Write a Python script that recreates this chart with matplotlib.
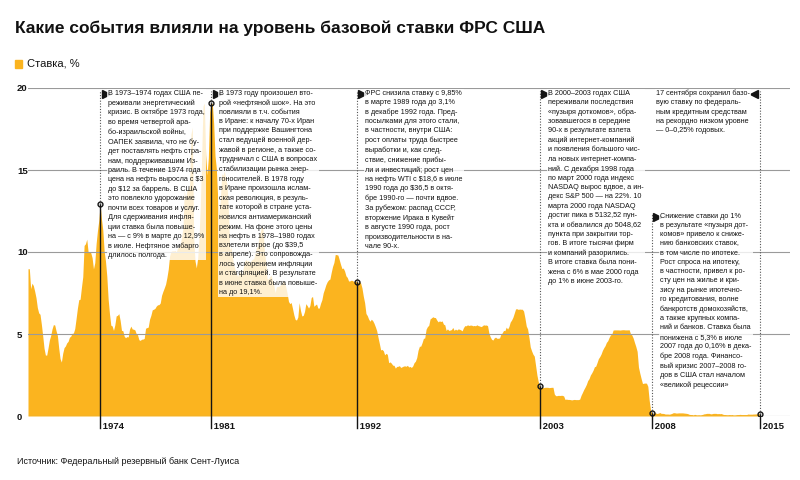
import numpy as np
import matplotlib
matplotlib.use('Agg')
import matplotlib.pyplot as plt
from matplotlib.patches import Rectangle
from matplotlib.transforms import offset_copy

plt.rcParams['font.family'] = ['Liberation Sans', 'DejaVu Sans']

# monthly federal funds rate, %, Jan 1970 .. Sep 2015
rates_1970s = [8.98, 8.98, 7.76, 8.10, 7.95, 7.61, 7.21, 6.61, 6.29, 6.20, 5.60, 4.90,
               4.14, 3.72, 3.71, 4.15, 4.63, 4.91, 5.31, 5.57, 5.55, 5.20, 4.91, 4.14,
               3.50, 3.29, 3.83, 4.17, 4.27, 4.46, 4.55, 4.80, 4.87, 5.04, 5.06, 5.33,
               5.94, 6.58, 7.09, 7.12, 7.84, 8.49, 10.40, 10.50, 10.78, 10.01, 10.03, 9.95,
               9.65, 8.97, 9.35, 10.51, 11.31, 11.93, 12.92, 12.01, 11.34, 10.06, 9.45, 8.53,
               7.13, 6.24, 5.54, 5.49, 5.22, 5.55, 6.10, 6.14, 6.24, 5.82, 5.22, 5.20,
               4.87, 4.77, 4.84, 4.82, 5.29, 5.48, 5.31, 5.29, 5.25, 5.02, 4.95, 4.65,
               4.61, 4.68, 4.69, 4.73, 5.35, 5.39, 5.42, 5.90, 6.14, 6.47, 6.51, 6.56,
               6.70, 6.78, 6.79, 6.89, 7.36, 7.60, 7.81, 8.04, 8.45, 8.96, 9.76, 10.03,
               10.07, 10.06, 10.09, 10.01, 10.24, 10.29, 10.47, 10.94, 11.43, 13.77, 13.18, 13.78]
rates_1980s = [13.82, 14.13, 17.19, 17.61, 10.98, 9.47, 9.03, 9.61, 10.87, 12.81, 15.85, 18.90,
               19.08, 15.93, 14.70, 15.72, 18.52, 19.10, 19.04, 17.82, 15.87, 15.08, 13.31, 12.37,
               13.22, 14.78, 14.68, 14.94, 14.45, 14.15, 12.59, 10.12, 10.31, 9.71, 9.20, 8.95,
               8.68, 8.51, 8.77, 8.80, 8.63, 8.98, 9.37, 9.56, 9.45, 9.48, 9.34, 9.47,
               9.56, 9.59, 9.91, 10.29, 10.32, 11.06, 11.23, 11.64, 11.30, 9.99, 9.43, 8.38,
               8.35, 8.50, 8.58, 8.27, 7.97, 7.53, 7.88, 7.90, 7.92, 7.99, 8.05, 8.27,
               8.14, 7.86, 7.48, 6.99, 6.85, 6.92, 6.56, 6.17, 5.89, 5.85, 6.04, 6.91,
               6.43, 6.10, 6.13, 6.37, 6.85, 6.73, 6.58, 6.73, 7.22, 7.29, 6.69, 6.77,
               6.83, 6.58, 6.58, 6.87, 7.09, 7.51, 7.75, 8.01, 8.19, 8.30, 8.35, 8.76,
               9.12, 9.36, 9.85, 9.84, 9.81, 9.53, 9.24, 8.99, 9.02, 8.84, 8.55, 8.45]
rates_1990s = [8.23, 8.24, 8.28, 8.26, 8.18, 8.29, 8.15, 8.13, 8.20, 8.11, 7.81, 7.31,
               6.91, 6.25, 6.12, 5.91, 5.78, 5.90, 5.82, 5.66, 5.45, 5.21, 4.81, 4.43,
               4.03, 4.06, 3.98, 3.73, 3.82, 3.76, 3.25, 3.30, 3.22, 3.10, 3.09, 2.92,
               3.02, 3.03, 3.07, 2.96, 3.00, 3.04, 3.06, 3.03, 3.09, 2.99, 3.02, 2.96,
               3.05, 3.25, 3.34, 3.56, 4.01, 4.25, 4.26, 4.47, 4.73, 4.76, 5.29, 5.45,
               5.53, 5.92, 5.98, 6.05, 6.01, 6.00, 5.85, 5.74, 5.80, 5.76, 5.80, 5.60,
               5.56, 5.22, 5.31, 5.22, 5.24, 5.27, 5.40, 5.22, 5.30, 5.24, 5.31, 5.29,
               5.25, 5.19, 5.39, 5.51, 5.50, 5.56, 5.52, 5.54, 5.54, 5.50, 5.52, 5.50,
               5.56, 5.51, 5.49, 5.45, 5.49, 5.56, 5.54, 5.55, 5.51, 5.07, 4.83, 4.68,
               4.63, 4.76, 4.81, 4.74, 4.74, 4.76, 4.99, 5.07, 5.22, 5.20, 5.42, 5.30]
rates_2000s = [5.45, 5.73, 5.85, 6.02, 6.27, 6.53, 6.54, 6.50, 6.52, 6.51, 6.51, 6.40,
               5.98, 5.49, 5.31, 4.80, 4.21, 3.97, 3.77, 3.65, 3.07, 2.49, 2.09, 1.82,
               1.73, 1.74, 1.73, 1.75, 1.75, 1.75, 1.73, 1.74, 1.75, 1.75, 1.34, 1.24,
               1.24, 1.26, 1.25, 1.26, 1.26, 1.22, 1.01, 1.03, 1.01, 1.01, 1.00, 0.98,
               1.00, 1.01, 1.00, 1.00, 1.00, 1.03, 1.26, 1.43, 1.61, 1.76, 1.93, 2.16,
               2.28, 2.50, 2.63, 2.79, 3.00, 3.04, 3.26, 3.50, 3.62, 3.78, 4.00, 4.16,
               4.29, 4.49, 4.59, 4.79, 4.94, 4.99, 5.24, 5.25, 5.25, 5.25, 5.25, 5.24,
               5.25, 5.26, 5.26, 5.25, 5.25, 5.25, 5.26, 5.02, 4.94, 4.76, 4.49, 4.24,
               3.94, 2.98, 2.61, 2.28, 1.98, 2.00, 2.01, 2.00, 1.81, 0.97, 0.39, 0.16,
               0.15, 0.22, 0.18, 0.15, 0.18, 0.21, 0.16, 0.16, 0.15, 0.12, 0.12, 0.12]
rates_2010s = [0.11, 0.13, 0.16, 0.20, 0.20, 0.18, 0.18, 0.19, 0.19, 0.19, 0.19, 0.18,
               0.17, 0.16, 0.14, 0.10, 0.09, 0.09, 0.07, 0.10, 0.08, 0.07, 0.08, 0.07,
               0.08, 0.10, 0.13, 0.14, 0.16, 0.16, 0.16, 0.13, 0.14, 0.16, 0.16, 0.16,
               0.14, 0.15, 0.14, 0.15, 0.11, 0.09, 0.09, 0.08, 0.08, 0.09, 0.08, 0.09,
               0.07, 0.07, 0.08, 0.09, 0.09, 0.10, 0.09, 0.09, 0.09, 0.09, 0.09, 0.12,
               0.11, 0.11, 0.11, 0.12, 0.12, 0.13, 0.13, 0.14, 0.14]

# events: position on the time axis (year) and the label written under it
event_years = [1974.5, 1981.417, 1990.5, 2001.917, 2008.917, 2015.667]
event_labels = ['1974', '1981', '1992', '2003', '2008', '2015']

note_1974 = ("В 1973–1974 годах США пе-\nреживали энергетический\nкризис. В октябре 1973 года,\n"
             "во время четвертой ара-\nбо-израильской войны,\nОАПЕК заявила, что не бу-\n"
             "дет поставлять нефть стра-\nнам, поддерживавшим Из-\nраиль. В течение 1974 года\n"
             "цена на нефть выросла с $3\nдо $12 за баррель. В США\nэто повлекло удорожание\n"
             "почти всех товаров и услуг.\nДля сдерживания инфля-\nции ставка была повыше-\n"
             "на — с 9% в марте до 12,9%\nв июле. Нефтяное эмбарго\nдлилось полгода.")
note_1981 = ("В 1973 году произошел вто-\nрой «нефтяной шок». На это\nповлияли в т.ч. события\n"
             "в Иране: к началу 70-х Иран\nпри поддержке Вашингтона\nстал ведущей военной дер-\n"
             "жавой в регионе, а также со-\nтрудничал с США в вопросах\nстабилизации рынка энер-\n"
             "гоносителей. В 1978 году\nв Иране произошла ислам-\nская революция, в резуль-\n"
             "тате которой в стране уста-\nновился антиамериканский\nрежим. На фоне этого цены\n"
             "на нефть в 1978–1980 годах\nвзлетели втрое (до $39,5\nв апреле). Это сопровожда-\n"
             "лось ускорением инфляции\nи стагфляцией. В результате\nв июне ставка была повыше-\n"
             "на до 19,1%.")
note_1992 = ("ФРС снизила ставку с 9,85%\nв марте 1989 года до 3,1%\nв декабре 1992 года. Пред-\n"
             "посылками для этого стали,\nв частности, внутри США:\nрост оплаты труда быстрее\n"
             "выработки и, как след-\nствие, снижение прибы-\nли и инвестиций; рост цен\n"
             "на нефть WTI с $18,6 в июле\n1990 года до $36,5 в октя-\nбре 1990-го — почти вдвое.\n"
             "За рубежом: распад СССР,\nвторжение Ирака в Кувейт\nв августе 1990 года, рост\n"
             "производительности в на-\nчале 90-х.")
note_2003 = ("В 2000–2003 годах США\nпереживали последствия\n«пузыря доткомов», обра-\n"
             "зовавшегося в середине\n90-х в результате взлета\nакций интернет-компаний\n"
             "и появления большого чис-\nла новых интернет-компа-\nний. С декабря 1998 года\n"
             "по март 2000 года индекс\nNASDAQ вырос вдвое, а ин-\nдекс S&P 500 — на 22%. 10\n"
             "марта 2000 года NASDAQ\nдостиг пика в 5132,52 пун-\nкта и обвалился до 5048,62\n"
             "пункта при закрытии тор-\nгов. В итоге тысячи фирм\nи компаний разорились.\n"
             "В итоге ставка была пони-\nжена с 6% в мае 2000 года\nдо 1% в июне 2003-го.")
note_2008 = ("Снижение ставки до 1%\nв результате «пузыря дот-\nкомов» привело к сниже-\n"
             "нию банковских ставок,\nв том числе по ипотеке.\nРост спроса на ипотеку,\n"
             "в частности, привел к ро-\nсту цен на жилье и кри-\nзису на рынке ипотечно-\n"
             "го кредитования, волне\nбанкротств домохозяйств,\nа также крупных компа-\n"
             "ний и банков. Ставка была\nпонижена с 5,3% в июле\n2007 года до 0,16% в дека-\n"
             "бре 2008 года. Финансо-\nвый кризис 2007–2008 го-\nдов в США стал началом\n"
             "«великой рецессии»")
note_2015 = ("17 сентября сохранил базо-\nвую ставку по федераль-\nным кредитным средствам\n"
             "на рекордно низком уровне\n— 0–0,25% годовых.")
event_notes = [note_1974, note_1981, note_1992, note_2003, note_2008, note_2015]
note_tops = [19.9, 19.9, 19.9, 19.9, 12.4, 19.9]

rates = np.array(rates_1970s + rates_1980s + rates_1990s + rates_2000s + rates_2010s)
years = 1970 + np.arange(len(rates)) / 12.0

ORANGE = '#FBB41F'
DARK = '#141414'
NOTE_SIZE = 5.2
NOTE_LS = 1.45

fig = plt.figure(figsize=(8, 4.8), dpi=100)
ax = fig.add_axes([28 / 800, 64 / 480, 762 / 800, 328 / 480])

ax.fill_between(years, 0, rates, color=ORANGE, lw=0, zorder=1)
ax.set_xlim(1970, 1970 + 762 / 16.03)
ax.set_ylim(0, 20)
ax.set_yticks([0, 5, 10, 15, 20])
ax.set_yticklabels(['0', '5', '10', '15', '20'], ha='left', fontsize=6.8, fontweight='bold', color=DARK)
ax.tick_params(axis='y', length=0, pad=8)
ax.set_xticks([])
ax.yaxis.grid(True, color='#9a9a9a', lw=0.8)
ax.set_axisbelow(False)
for s in ax.spines.values():
    s.set_visible(False)

for yr, lab, note, top in zip(event_years, event_labels, event_notes, note_tops):
    val = np.interp(yr, years, rates)
    ax.plot([yr, yr], [-0.75, val], color=DARK, lw=1, clip_on=False, zorder=4)
    ax.plot([yr, yr], [val, top - 0.1], color='#555555', lw=0.8, ls=(0, (1, 1.5)), zorder=4)
    ax.plot(yr, val, 'o', ms=3.5, mfc='none', mec=DARK, mew=1, zorder=5)
    ax.text(yr, -0.35, ' ' + lab, ha='left', va='top', fontsize=6.8, fontweight='bold', color=DARK)
    if lab == '2015':
        tri = offset_copy(ax.transData, fig=fig, x=-4, y=-3, units='points')
        ax.plot(yr, top, marker='<', ms=6, color=DARK, transform=tri, clip_on=False, zorder=6)
        ax.annotate(note, xy=(yr, top), xytext=(-7, 0), textcoords='offset points',
                    ha='right', va='top', multialignment='left', fontsize=NOTE_SIZE,
                    linespacing=NOTE_LS, color=DARK, zorder=6,
                    bbox=dict(boxstyle='square,pad=0.15', fc='white', ec='none', alpha=0.8))
    else:
        tri = offset_copy(ax.transData, fig=fig, x=4, y=-3, units='points')
        ax.plot(yr, top, marker='>', ms=6, color=DARK, transform=tri, clip_on=False, zorder=6)
        ax.annotate(note, xy=(yr, top), xytext=(6, 0), textcoords='offset points',
                    ha='left', va='top', fontsize=NOTE_SIZE, linespacing=NOTE_LS, color=DARK, zorder=6,
                    bbox=dict(boxstyle='square,pad=0.15', fc='white', ec='none', alpha=0.8))

fig.text(15 / 800, 1 - 28 / 480, 'Какие события влияли на уровень базовой ставки ФРС США',
         fontsize=12.5, fontweight='bold', va='center', color='#111111')
fig.add_artist(Rectangle((15 / 800, 1 - 68 / 480), 7 / 800, 8 / 480, color=ORANGE,
                         transform=fig.transFigure))
fig.text(27 / 800, 1 - 64 / 480, 'Ставка, %', fontsize=8, va='center', color=DARK)
fig.text(17 / 800, 1 - 462 / 480, 'Источник: Федеральный резервный банк Сент-Луиса',
         fontsize=6.5, va='center', color=DARK)

fig.savefig('out.png', dpi=100)
